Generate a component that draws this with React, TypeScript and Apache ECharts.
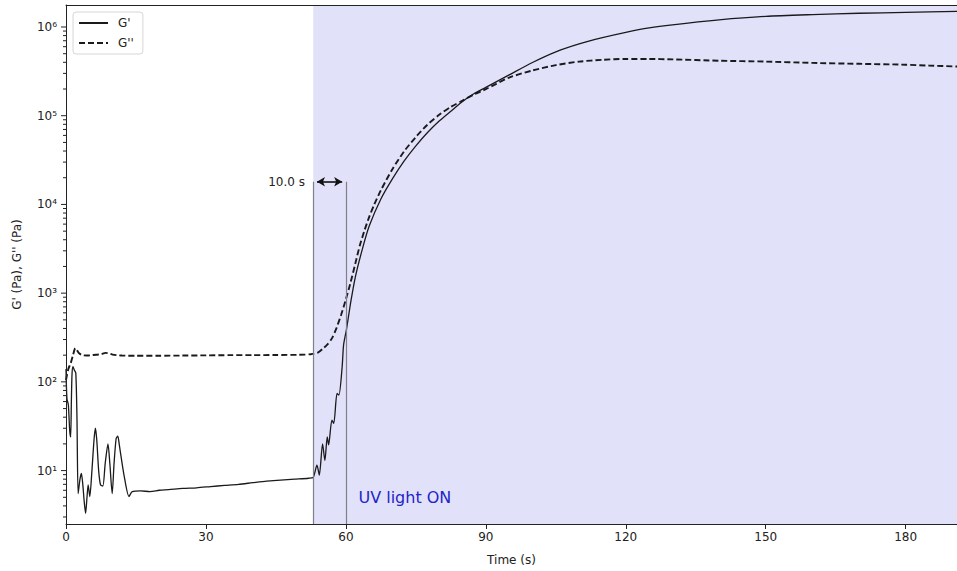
import React, { useEffect, useRef } from "react";
import * as echarts from "echarts";

// ---- data ----
const gPrimeTime = [
  0, 0.2, 0.5, 0.8, 1.0, 1.15, 1.3, 1.5, 1.8, 2.1, 2.35, 2.6, 3.0, 3.3, 3.6, 3.9, 4.2, 4.5, 4.75, 5.1,
  5.5, 6.0, 6.3, 6.6, 7.0, 7.4, 7.9, 8.4, 9.0, 9.4, 9.9, 10.3, 10.75, 11.1, 11.4, 11.7, 12.5, 13.5, 14.2,
  16, 18, 20, 22, 25, 28, 31, 34, 37, 40, 43, 46, 49, 52, 53, 53.8, 54.3, 55.0, 55.5, 56.0, 56.3, 57.0,
  57.4, 58.1, 58.5, 59.2, 59.5, 60.1, 61, 62, 63.5, 65, 67.5, 70, 72.5, 75, 77.5, 80, 82.5, 85, 87.5, 90,
  95, 100, 105, 110, 115, 120, 125, 130, 140, 150, 160, 170, 180, 191,
];
const gPrimeValues = [
  140, 65, 55, 28, 24, 60, 125, 148, 135, 126, 40, 5.5, 8, 9.3, 7, 4.5, 3.3, 5, 6.9, 5.1,
  9, 22, 30, 22, 10, 6.9, 6.7, 12, 20, 12, 5.5, 12, 23, 24.5, 20, 15.6, 8.5, 5.1, 5.8,
  5.9, 5.8, 6.0, 6.1, 6.3, 6.4, 6.6, 6.8, 7.0, 7.3, 7.6, 7.8, 8.0, 8.2, 8.4, 11.5, 8.9, 20, 13, 24, 19.5, 37,
  34, 74, 71, 148, 260, 384, 770, 1500, 3100, 5700, 11500, 19500, 30900, 45700, 64600, 87100, 112200, 144500, 177800, 208900,
  288400, 398100, 524800, 645700, 758600, 871000, 977200, 1059300, 1202300, 1318300, 1380400, 1428900, 1462200, 1496200,
];

const gDoublePrimeTime = [
  0, 0.5, 1, 1.5, 2, 2.4, 2.8, 3.5, 4.5, 5.5, 6.5, 7.5, 8.5, 9.2, 10, 11, 12, 15, 20, 25, 30, 35, 40, 45, 50,
  52.5, 54, 55, 56, 57, 58, 59, 60, 61, 62, 63, 64, 65, 66, 67.5, 70, 72.5, 75, 77.5, 80, 82.5, 85, 87.5, 90,
  95, 100, 105, 110, 115, 120, 125, 130, 140, 150, 160, 170, 180, 185, 191,
];
const gDoublePrimeValues = [
  105, 140, 162, 200, 240, 225, 210, 200, 198, 200, 202, 205, 212, 210, 203, 200, 198, 197, 197, 198, 199, 200, 200, 201, 202,
  205, 214, 235, 263, 309, 407, 575, 851, 1318, 2138, 3467, 5129, 7244, 9772, 14450, 25120, 39810, 57540, 79430, 102300, 125900, 147900, 173800, 199500,
  269200, 323600, 371500, 407400, 426600, 436500, 436500, 431500, 416900, 407400, 393600, 384600, 375800, 367300, 358900,
];

// axis ticks
const xTickInterval = 30;
const yMajorTicks = [10, 100, 1000, 10000, 100000, 1000000];
const yMinorMantissas = [2, 3, 4, 5, 6, 7, 8, 9];

// annotations
const uvOnTime = 53;
const markerTime = 60;
const bracketTop = 18000;
const arrowStart = 53.8;
const arrowEnd = 59.2;
const arrowText = "10.0 s";
const uvText = "UV light ON";
const uvTextPos = [62.7, 5.0];

const X_MIN = 0;
const X_MAX = 191;
const Y_MIN = 2.5;
const Y_MAX = 1.77e6;

const FONT = "'DejaVu Sans', sans-serif";
const SUP = ["⁰", "¹", "²", "³", "⁴", "⁵", "⁶", "⁷", "⁸", "⁹"];

function toSup(n: number): string {
  return String(n)
    .split("")
    .map((c) => SUP[Number(c)])
    .join("");
}

export default function App() {
  const ref = useRef<HTMLDivElement>(null);

  useEffect(() => {
    if (!ref.current) return;
    const chart = echarts.init(ref.current, null, { renderer: "svg" });

    const tickData: number[][] = [];
    yMajorTicks.forEach((v) => tickData.push([X_MIN, v, 5]));
    [1, ...yMajorTicks].forEach((d) => {
      yMinorMantissas.forEach((m) => {
        const v = m * d;
        if (v >= Y_MIN && v <= Y_MAX) tickData.push([X_MIN, v, 3]);
      });
    });

    const axisText = { color: "#222", fontSize: 12, fontFamily: FONT };

    const option: any = {
      animation: false,
      backgroundColor: "#ffffff",
      grid: { left: 66, top: 5, right: 0, bottom: 47, containLabel: false },
      legend: {
        data: [{ name: "G'" }, { name: "G''" }],
        orient: "vertical",
        left: 73,
        top: 12,
        itemWidth: 29,
        itemHeight: 12,
        itemGap: 8,
        padding: [5, 9, 5, 5],
        backgroundColor: "rgba(255,255,255,0.85)",
        borderColor: "#d6d6d6",
        borderWidth: 1,
        borderRadius: 3,
        itemStyle: { opacity: 0 },
        textStyle: { ...axisText, padding: [0, 0, 0, 5] },
        selectedMode: false,
      },
      xAxis: [
        {
          type: "value",
          min: X_MIN,
          max: X_MAX,
          interval: xTickInterval,
          z: 5,
          axisLine: { show: true, lineStyle: { color: "#222", width: 1 } },
          axisTick: { show: true, length: 5, lineStyle: { color: "#222", width: 1 } },
          axisLabel: { ...axisText, margin: 7, showMaxLabel: false },
          splitLine: { show: false },
          name: "Time (s)",
          nameLocation: "middle",
          nameGap: 30,
          nameTextStyle: axisText,
        },
        {
          type: "value",
          position: "top",
          min: X_MIN,
          max: X_MAX,
          z: 5,
          axisLine: { show: true, lineStyle: { color: "#222", width: 1 } },
          axisTick: { show: false },
          axisLabel: { show: false },
          splitLine: { show: false },
        },
      ],
      yAxis: [
        {
          type: "log",
          logBase: 10,
          min: Y_MIN,
          max: Y_MAX,
          z: 5,
          axisLine: { show: true, lineStyle: { color: "#222", width: 1 } },
          axisTick: { show: false },
          minorTick: { show: false },
          axisLabel: {
            ...axisText,
            margin: 9,
            showMinLabel: false,
            showMaxLabel: false,
            formatter: (v: number) => "10" + toSup(Math.round(Math.log10(v))),
          },
          splitLine: { show: false },
          name: "G' (Pa), G'' (Pa)",
          nameLocation: "middle",
          nameGap: 43,
          nameTextStyle: axisText,
        },
      ],
      series: [
        {
          name: "uv-shade",
          type: "line",
          data: [],
          silent: true,
          z: 1,
          markArea: {
            silent: true,
            itemStyle: { color: "#e1e1fa" },
            data: [[{ xAxis: uvOnTime }, { xAxis: X_MAX }]],
          },
          markLine: {
            silent: true,
            symbol: "none",
            label: { show: false },
            lineStyle: { color: "#7f7f8a", width: 1.2, type: "solid" },
            data: [
              [{ coord: [uvOnTime, Y_MIN] }, { coord: [uvOnTime, bracketTop] }],
              [{ coord: [markerTime, Y_MIN] }, { coord: [markerTime, bracketTop] }],
            ],
          },
        },
        {
          name: "G'",
          type: "line",
          data: gPrimeTime.map((t, i) => [t, gPrimeValues[i]]),
          showSymbol: false,
          symbol: "none",
          smooth: 0.25,
          z: 3,
          lineStyle: { color: "#1a1a1a", width: 1.3, type: "solid" },
          itemStyle: { color: "#1a1a1a" },
        },
        {
          name: "G''",
          type: "line",
          data: gDoublePrimeTime.map((t, i) => [t, gDoublePrimeValues[i]]),
          showSymbol: false,
          symbol: "none",
          smooth: 0.25,
          z: 3,
          lineStyle: { color: "#1a1a1a", width: 1.9, type: [6, 3] },
          itemStyle: { color: "#1a1a1a" },
        },
        {
          name: "annotations",
          type: "line",
          data: [],
          silent: true,
          z: 4,
          markLine: {
            silent: true,
            symbol: ["arrow", "arrow"],
            symbolSize: [7, 8],
            lineStyle: { color: "#111", width: 1.6, type: "solid" },
            label: {
              show: true,
              position: "start",
              distance: 12,
              formatter: arrowText,
              color: "#222",
              fontSize: 12,
              fontFamily: FONT,
              padding: [0, 0, 12, 0],
            },
            data: [[{ coord: [arrowStart, bracketTop] }, { coord: [arrowEnd, bracketTop] }]],
          },
          markPoint: {
            silent: true,
            symbol: "circle",
            symbolSize: 0,
            label: {
              show: true,
              position: "right",
              distance: 0,
              formatter: uvText,
              color: "#2424c8",
              fontSize: 16,
              fontFamily: FONT,
            },
            data: [{ coord: uvTextPos }],
          },
        },
        {
          name: "y-ticks",
          type: "custom",
          coordinateSystem: "cartesian2d",
          silent: true,
          clip: false,
          z: 6,
          data: tickData,
          renderItem: (params: any, api: any) => {
            const p = api.coord([api.value(0), api.value(1)]);
            const len = api.value(2);
            return {
              type: "line",
              shape: { x1: p[0] - len, y1: p[1], x2: p[0], y2: p[1] },
              style: { stroke: "#222", lineWidth: 1 },
            };
          },
        },
      ],
    };

    chart.setOption(option);
    return () => chart.dispose();
  }, []);

  return (
    <div
      ref={ref}
      style={{ position: "absolute", left: 0, top: 0, width: 957, height: 571 }}
    />
  );
}
